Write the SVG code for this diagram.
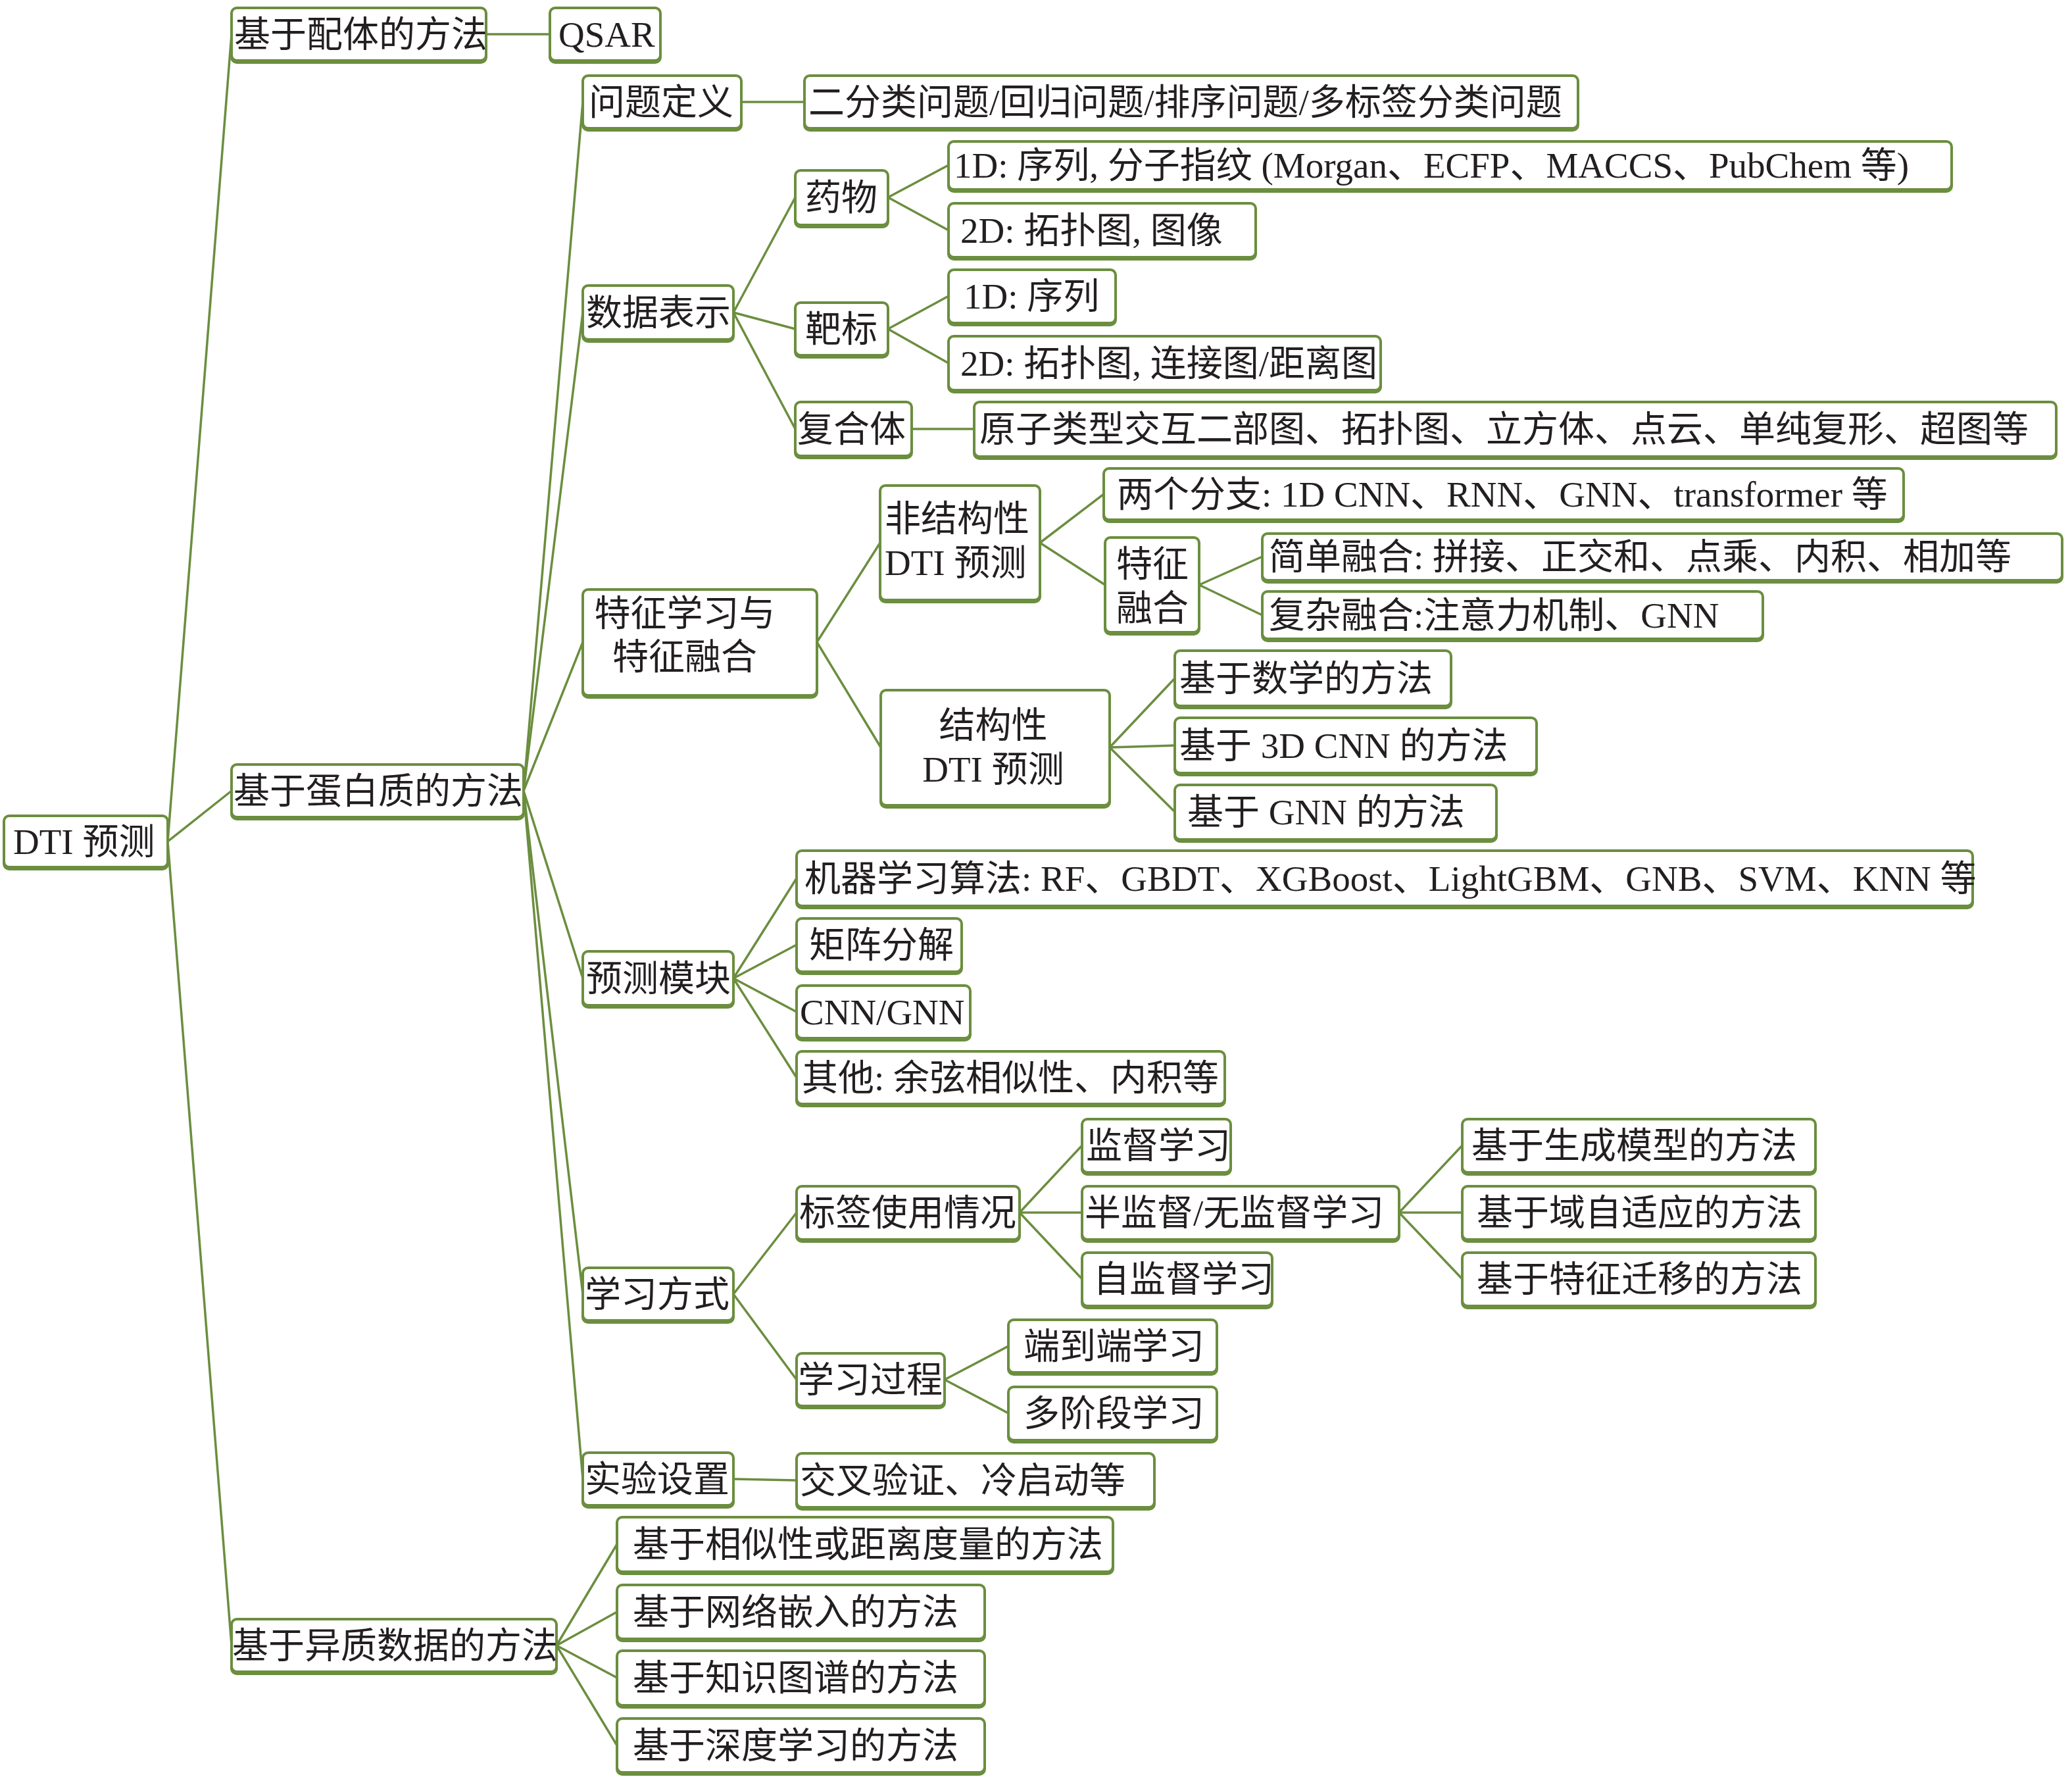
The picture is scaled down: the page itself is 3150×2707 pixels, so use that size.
<svg xmlns="http://www.w3.org/2000/svg" width="3150" height="2707" viewBox="0 0 3150 2707">
<style>
.sh{fill:#6b8e3f;stroke:#6b8e3f;stroke-width:4}
.bx{fill:#fff;stroke:#6b8e3f;stroke-width:4}
.t{font-family:"Liberation Serif","Noto Sans CJK SC",serif;font-size:55px;fill:#231f20}
.m{text-anchor:middle}
#connectors line{stroke:#6b8e3f;stroke-width:3.5;fill:none;stroke-linecap:round}
</style>
<rect width="3150" height="2707" fill="#fff"/>
<g id="connectors">
<line x1="255" y1="1279" x2="352" y2="52"/>
<line x1="255" y1="1279" x2="352" y2="1202"/>
<line x1="255" y1="1279" x2="352" y2="2501"/>
<line x1="739" y1="52" x2="836" y2="52"/>
<line x1="796" y1="1202" x2="886" y2="155"/>
<line x1="796" y1="1202" x2="886" y2="475"/>
<line x1="796" y1="1202" x2="886" y2="976"/>
<line x1="796" y1="1202" x2="886" y2="1487"/>
<line x1="796" y1="1202" x2="886" y2="1967"/>
<line x1="796" y1="1202" x2="886" y2="2248"/>
<line x1="1127" y1="155" x2="1223" y2="155"/>
<line x1="1115" y1="475" x2="1209" y2="300"/>
<line x1="1115" y1="475" x2="1209" y2="500"/>
<line x1="1115" y1="475" x2="1209" y2="652"/>
<line x1="1350" y1="300" x2="1442" y2="251"/>
<line x1="1350" y1="300" x2="1442" y2="350"/>
<line x1="1350" y1="500" x2="1442" y2="450"/>
<line x1="1350" y1="500" x2="1442" y2="552"/>
<line x1="1386" y1="652" x2="1481" y2="652"/>
<line x1="1242" y1="976" x2="1338" y2="825"/>
<line x1="1242" y1="976" x2="1339" y2="1136"/>
<line x1="1581" y1="825" x2="1678" y2="751"/>
<line x1="1581" y1="825" x2="1680" y2="889"/>
<line x1="1823" y1="889" x2="1919" y2="846"/>
<line x1="1823" y1="889" x2="1919" y2="935"/>
<line x1="1687" y1="1136" x2="1786" y2="1031"/>
<line x1="1687" y1="1136" x2="1786" y2="1133"/>
<line x1="1687" y1="1136" x2="1786" y2="1234"/>
<line x1="1115" y1="1487" x2="1211" y2="1335"/>
<line x1="1115" y1="1487" x2="1211" y2="1436"/>
<line x1="1115" y1="1487" x2="1211" y2="1538"/>
<line x1="1115" y1="1487" x2="1211" y2="1638"/>
<line x1="1115" y1="1967" x2="1211" y2="1843"/>
<line x1="1115" y1="1967" x2="1211" y2="2097"/>
<line x1="1550" y1="1843" x2="1645" y2="1741"/>
<line x1="1550" y1="1843" x2="1645" y2="1843"/>
<line x1="1550" y1="1843" x2="1645" y2="1944"/>
<line x1="2127" y1="1843" x2="2223" y2="1741"/>
<line x1="2127" y1="1843" x2="2223" y2="1843"/>
<line x1="2127" y1="1843" x2="2223" y2="1944"/>
<line x1="1436" y1="2097" x2="1533" y2="2046"/>
<line x1="1436" y1="2097" x2="1533" y2="2148"/>
<line x1="1115" y1="2248" x2="1211" y2="2250"/>
<line x1="846" y1="2501" x2="938" y2="2347"/>
<line x1="846" y1="2501" x2="938" y2="2450"/>
<line x1="846" y1="2501" x2="938" y2="2550"/>
<line x1="846" y1="2501" x2="938" y2="2653"/>
</g>

<g id="n-root"><rect class="sh" x="6" y="1243" width="249" height="78" rx="8"/><rect class="bx" x="6" y="1240" width="249" height="78" rx="8"/><text class="t" x="20" y="1298">DTI 预测</text></g>
<g id="n-ligand"><rect class="sh" x="352" y="15" width="387" height="80" rx="8"/><rect class="bx" x="352" y="12" width="387" height="80" rx="8"/><text class="t" x="356" y="71">基于配体的方法</text></g>
<g id="n-qsar"><rect class="sh" x="836" y="15" width="168" height="80" rx="8"/><rect class="bx" x="836" y="12" width="168" height="80" rx="8"/><text class="t" x="849" y="71">QSAR</text></g>
<g id="n-protein"><rect class="sh" x="352" y="1165" width="444" height="80" rx="8"/><rect class="bx" x="352" y="1162" width="444" height="80" rx="8"/><text class="t" x="355" y="1221">基于蛋白质的方法</text></g>
<g id="n-hetero"><rect class="sh" x="352" y="2464" width="494" height="80" rx="8"/><rect class="bx" x="352" y="2461" width="494" height="80" rx="8"/><text class="t" x="353" y="2520">基于异质数据的方法</text></g>

<g id="n-problem"><rect class="sh" x="886" y="118" width="241" height="80" rx="8"/><rect class="bx" x="886" y="115" width="241" height="80" rx="8"/><text class="t" x="895" y="174">问题定义</text></g>
<g id="n-problem-types"><rect class="sh" x="1223" y="118" width="1176" height="80" rx="8"/><rect class="bx" x="1223" y="115" width="1176" height="80" rx="8"/><text class="t" x="1229" y="174">二分类问题/回归问题/排序问题/多标签分类问题</text></g>
<g id="n-datarep"><rect class="sh" x="886" y="437" width="229" height="82" rx="8"/><rect class="bx" x="886" y="434" width="229" height="82" rx="8"/><text class="t" x="891" y="494">数据表示</text></g>
<g id="n-drug"><rect class="sh" x="1209" y="262" width="141" height="83" rx="8"/><rect class="bx" x="1209" y="259" width="141" height="83" rx="8"/><text class="t" x="1224" y="319">药物</text></g>
<g id="n-target"><rect class="sh" x="1209" y="463" width="141" height="80" rx="8"/><rect class="bx" x="1209" y="460" width="141" height="80" rx="8"/><text class="t" x="1224" y="519">靶标</text></g>
<g id="n-complex"><rect class="sh" x="1209" y="614" width="177" height="82" rx="8"/><rect class="bx" x="1209" y="611" width="177" height="82" rx="8"/><text class="t" x="1212" y="671">复合体</text></g>
<g id="n-drug-1d"><rect class="sh" x="1442" y="218" width="1525" height="73" rx="8"/><rect class="bx" x="1442" y="215" width="1525" height="73" rx="8"/><text class="t" x="1450" y="270">1D: 序列, 分子指纹 (Morgan、ECFP、MACCS、PubChem 等)</text></g>
<g id="n-drug-2d"><rect class="sh" x="1442" y="312" width="467" height="82" rx="8"/><rect class="bx" x="1442" y="309" width="467" height="82" rx="8"/><text class="t" x="1460" y="369">2D: 拓扑图, 图像</text></g>
<g id="n-target-1d"><rect class="sh" x="1442" y="413" width="254" height="81" rx="8"/><rect class="bx" x="1442" y="410" width="254" height="81" rx="8"/><text class="t" x="1465" y="469">1D: 序列</text></g>
<g id="n-target-2d"><rect class="sh" x="1442" y="514" width="657" height="82" rx="8"/><rect class="bx" x="1442" y="511" width="657" height="82" rx="8"/><text class="t" x="1460" y="571">2D: 拓扑图, 连接图/距离图</text></g>
<g id="n-complex-rep"><rect class="sh" x="1481" y="614" width="1645" height="83" rx="8"/><rect class="bx" x="1481" y="611" width="1645" height="83" rx="8"/><text class="t" x="1489" y="671">原子类型交互二部图、拓扑图、立方体、点云、单纯复形、超图等</text></g>

<g id="n-feature"><rect class="sh" x="886" y="899" width="356" height="161" rx="8"/><rect class="bx" x="886" y="896" width="356" height="161" rx="8"/><text class="t m" x="1041" y="951">特征学习与<tspan x="1041" y="1017">特征融合</tspan></text></g>
<g id="n-nonstruct"><rect class="sh" x="1338" y="741" width="243" height="174" rx="8"/><rect class="bx" x="1338" y="738" width="243" height="174" rx="8"/><text class="t" x="1345" y="807">非结构性<tspan x="1345" y="874">DTI 预测</tspan></text></g>
<g id="n-branches"><rect class="sh" x="1678" y="715" width="1216" height="78" rx="8"/><rect class="bx" x="1678" y="712" width="1216" height="78" rx="8"/><text class="t" x="1698" y="770">两个分支: 1D CNN、RNN、GNN、transformer 等</text></g>
<g id="n-fusion"><rect class="sh" x="1680" y="820" width="143" height="144" rx="8"/><rect class="bx" x="1680" y="817" width="143" height="144" rx="8"/><text class="t" x="1697" y="876">特征<tspan x="1697" y="943">融合</tspan></text></g>
<g id="n-simple-fusion"><rect class="sh" x="1919" y="814" width="1216" height="71" rx="8"/><rect class="bx" x="1919" y="811" width="1216" height="71" rx="8"/><text class="t" x="1929" y="865">简单融合: 拼接、正交和、点乘、内积、相加等</text></g>
<g id="n-complex-fusion"><rect class="sh" x="1919" y="902" width="761" height="72" rx="8"/><rect class="bx" x="1919" y="899" width="761" height="72" rx="8"/><text class="t" x="1929" y="954">复杂融合:注意力机制、GNN</text></g>
<g id="n-struct"><rect class="sh" x="1339" y="1052" width="348" height="175" rx="8"/><rect class="bx" x="1339" y="1049" width="348" height="175" rx="8"/><text class="t m" x="1510" y="1121">结构性<tspan x="1510" y="1188">DTI 预测</tspan></text></g>
<g id="n-math"><rect class="sh" x="1786" y="992" width="420" height="84" rx="8"/><rect class="bx" x="1786" y="989" width="420" height="84" rx="8"/><text class="t" x="1793" y="1050">基于数学的方法</text></g>
<g id="n-3dcnn"><rect class="sh" x="1786" y="1094" width="550" height="84" rx="8"/><rect class="bx" x="1786" y="1091" width="550" height="84" rx="8"/><text class="t" x="1793" y="1152">基于 3D CNN 的方法</text></g>
<g id="n-gnn"><rect class="sh" x="1786" y="1196" width="489" height="83" rx="8"/><rect class="bx" x="1786" y="1193" width="489" height="83" rx="8"/><text class="t" x="1805" y="1253">基于 GNN 的方法</text></g>

<g id="n-predict"><rect class="sh" x="886" y="1449" width="229" height="82" rx="8"/><rect class="bx" x="886" y="1446" width="229" height="82" rx="8"/><text class="t" x="891" y="1506">预测模块</text></g>
<g id="n-ml"><rect class="sh" x="1211" y="1296" width="1788" height="84" rx="8"/><rect class="bx" x="1211" y="1293" width="1788" height="84" rx="8"/><text class="t" x="1223" y="1354">机器学习算法: RF、GBDT、XGBoost、LightGBM、GNB、SVM、KNN 等</text></g>
<g id="n-mf"><rect class="sh" x="1211" y="1399" width="251" height="81" rx="8"/><rect class="bx" x="1211" y="1396" width="251" height="81" rx="8"/><text class="t" x="1230" y="1455">矩阵分解</text></g>
<g id="n-cnn"><rect class="sh" x="1211" y="1501" width="264" height="80" rx="8"/><rect class="bx" x="1211" y="1498" width="264" height="80" rx="8"/><text class="t" x="1216" y="1557">CNN/GNN</text></g>
<g id="n-other"><rect class="sh" x="1211" y="1601" width="651" height="80" rx="8"/><rect class="bx" x="1211" y="1598" width="651" height="80" rx="8"/><text class="t" x="1219" y="1657">其他: 余弦相似性、内积等</text></g>

<g id="n-learning"><rect class="sh" x="886" y="1930" width="229" height="80" rx="8"/><rect class="bx" x="886" y="1927" width="229" height="80" rx="8"/><text class="t" x="889" y="1986">学习方式</text></g>
<g id="n-label"><rect class="sh" x="1211" y="1806" width="339" height="81" rx="8"/><rect class="bx" x="1211" y="1803" width="339" height="81" rx="8"/><text class="t" x="1215" y="1862">标签使用情况</text></g>
<g id="n-supervised"><rect class="sh" x="1645" y="1704" width="226" height="81" rx="8"/><rect class="bx" x="1645" y="1701" width="226" height="81" rx="8"/><text class="t" x="1651" y="1760">监督学习</text></g>
<g id="n-semi"><rect class="sh" x="1645" y="1806" width="482" height="81" rx="8"/><rect class="bx" x="1645" y="1803" width="482" height="81" rx="8"/><text class="t" x="1649" y="1862">半监督/无监督学习</text></g>
<g id="n-self"><rect class="sh" x="1645" y="1907" width="289" height="81" rx="8"/><rect class="bx" x="1645" y="1904" width="289" height="81" rx="8"/><text class="t" x="1662" y="1963">自监督学习</text></g>
<g id="n-generative"><rect class="sh" x="2223" y="1704" width="537" height="81" rx="8"/><rect class="bx" x="2223" y="1701" width="537" height="81" rx="8"/><text class="t" x="2237" y="1760">基于生成模型的方法</text></g>
<g id="n-domain"><rect class="sh" x="2223" y="1806" width="537" height="81" rx="8"/><rect class="bx" x="2223" y="1803" width="537" height="81" rx="8"/><text class="t" x="2245" y="1862">基于域自适应的方法</text></g>
<g id="n-transfer"><rect class="sh" x="2223" y="1907" width="537" height="81" rx="8"/><rect class="bx" x="2223" y="1904" width="537" height="81" rx="8"/><text class="t" x="2245" y="1963">基于特征迁移的方法</text></g>
<g id="n-process"><rect class="sh" x="1211" y="2060" width="225" height="80" rx="8"/><rect class="bx" x="1211" y="2057" width="225" height="80" rx="8"/><text class="t" x="1213" y="2116">学习过程</text></g>
<g id="n-e2e"><rect class="sh" x="1533" y="2009" width="317" height="80" rx="8"/><rect class="bx" x="1533" y="2006" width="317" height="80" rx="8"/><text class="t" x="1556" y="2065">端到端学习</text></g>
<g id="n-multistage"><rect class="sh" x="1533" y="2111" width="317" height="81" rx="8"/><rect class="bx" x="1533" y="2108" width="317" height="81" rx="8"/><text class="t" x="1556" y="2167">多阶段学习</text></g>

<g id="n-exp"><rect class="sh" x="886" y="2211" width="229" height="80" rx="8"/><rect class="bx" x="886" y="2208" width="229" height="80" rx="8"/><text class="t" x="889" y="2267">实验设置</text></g>
<g id="n-cv"><rect class="sh" x="1211" y="2212" width="544" height="82" rx="8"/><rect class="bx" x="1211" y="2209" width="544" height="82" rx="8"/><text class="t" x="1216" y="2269">交叉验证、冷启动等</text></g>

<g id="n-similarity"><rect class="sh" x="938" y="2309" width="754" height="83" rx="8"/><rect class="bx" x="938" y="2306" width="754" height="83" rx="8"/><text class="t" x="962" y="2366">基于相似性或距离度量的方法</text></g>
<g id="n-embedding"><rect class="sh" x="938" y="2412" width="559" height="82" rx="8"/><rect class="bx" x="938" y="2409" width="559" height="82" rx="8"/><text class="t" x="962" y="2469">基于网络嵌入的方法</text></g>
<g id="n-kg"><rect class="sh" x="938" y="2512" width="559" height="83" rx="8"/><rect class="bx" x="938" y="2509" width="559" height="83" rx="8"/><text class="t" x="962" y="2569">基于知识图谱的方法</text></g>
<g id="n-dl"><rect class="sh" x="938" y="2615" width="559" height="82" rx="8"/><rect class="bx" x="938" y="2612" width="559" height="82" rx="8"/><text class="t" x="962" y="2672">基于深度学习的方法</text></g>
</svg>
